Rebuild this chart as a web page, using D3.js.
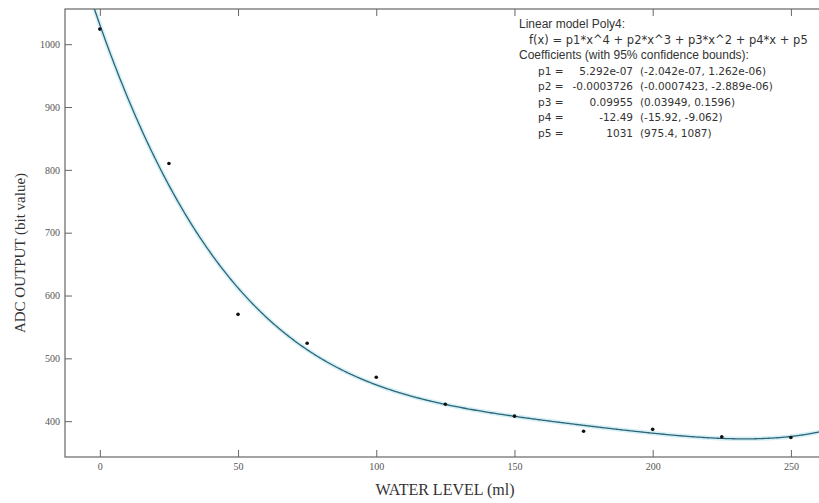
<!DOCTYPE html>
<html>
<head>
<meta charset="utf-8">
<script src="https://cdn.jsdelivr.net/npm/d3@7"></script>
<style>
    body { margin: 0; background: #fff; }
    svg { display: block; }
</style>
</head>
<body>
<div id="chart"></div>
<script>
// measured points (water level in ml, ADC output)
const waterLevel = [0, 25, 50, 75, 100, 125, 150, 175, 200, 225, 250];
const adcOutput = [1024, 810, 570, 524, 470, 427, 408, 384, 387, 375, 374];

// poly4 fit coefficients p1..p5
const coeffs = [5.292e-07, -0.0003726, 0.09955, -12.49, 1031];

const xTicks = [0, 50, 100, 150, 200, 250];
const yTicks = [400, 500, 600, 700, 800, 900, 1000];

const fitLines = [
    "Linear model Poly4:",
    "f(x) = p1*x^4 + p2*x^3 + p3*x^2 + p4*x + p5",
    "Coefficients (with 95% confidence bounds):"
];
const coefNames = ["p1 =", "p2 =", "p3 =", "p4 =", "p5 ="];
const coefValues = ["5.292e-07", "-0.0003726", "0.09955", "-12.49", "1031"];
const coefBounds = ["(-2.042e-07, 1.262e-06)", "(-0.0007423, -2.889e-06)", "(0.03949, 0.1596)", "(-15.92, -9.062)", "(975.4, 1087)"];

const width = 819, height = 503;
const plot = { left: 65, top: 9, right: 826, bottom: 457 };

const svg = d3.select("#chart").append("svg")
    .attr("width", width)
    .attr("height", height);

const x = d3.scaleLinear().domain([-12.6, 262.7]).range([plot.left, plot.right]);
const y = d3.scaleLinear().domain([343, 1056]).range([plot.bottom, plot.top]);

svg.append("clipPath").attr("id", "clip")
    .append("rect")
    .attr("x", plot.left).attr("y", plot.top)
    .attr("width", plot.right - plot.left).attr("height", plot.bottom - plot.top);

// fitted curve
const poly = v => coeffs.reduce((acc, c) => acc * v + c, 0);
const curveData = d3.range(-13, 263, 0.5).map(v => [v, poly(v)]);
const line = d3.line().x(d => x(d[0])).y(d => y(d[1]));

const curveG = svg.append("g").attr("clip-path", "url(#clip)");
curveG.append("path")
    .datum(curveData)
    .attr("d", line)
    .attr("fill", "none")
    .attr("stroke", "#d6f1f6")
    .attr("stroke-width", 4.5);
curveG.append("path")
    .datum(curveData)
    .attr("d", line)
    .attr("fill", "none")
    .attr("stroke", "#2e6478")
    .attr("stroke-width", 1.3);

// data points
svg.append("g").selectAll("circle")
    .data(waterLevel)
    .join("circle")
    .attr("cx", d => x(d))
    .attr("cy", (d, i) => y(adcOutput[i]))
    .attr("r", 1.8)
    .attr("fill", "#111");

// frame
const axisColor = "#666";
svg.append("rect")
    .attr("x", plot.left).attr("y", plot.top)
    .attr("width", plot.right - plot.left).attr("height", plot.bottom - plot.top)
    .attr("fill", "none")
    .attr("stroke", axisColor)
    .attr("stroke-width", 1.2);

// axes with inward ticks
const xAxisBottom = svg.append("g")
    .attr("transform", `translate(0,${plot.bottom})`)
    .call(d3.axisBottom(x).tickValues(xTicks).tickSizeInner(-7).tickSizeOuter(0).tickPadding(6));
const xAxisTop = svg.append("g")
    .attr("transform", `translate(0,${plot.top})`)
    .call(d3.axisTop(x).tickValues(xTicks).tickSizeInner(-7).tickSizeOuter(0).tickFormat(""));
const yAxisLeft = svg.append("g")
    .attr("transform", `translate(${plot.left},0)`)
    .call(d3.axisLeft(y).tickValues(yTicks).tickFormat(d3.format("d")).tickSizeInner(-7).tickSizeOuter(0).tickPadding(5));

[xAxisBottom, xAxisTop, yAxisLeft].forEach(g => {
    g.select(".domain").remove();
    g.selectAll(".tick line").attr("stroke", axisColor);
    g.selectAll(".tick text")
        .attr("fill", "#555")
        .attr("font-family", "Liberation Serif")
        .attr("font-size", 10);
});

// axis titles
svg.append("text")
    .attr("x", 445).attr("y", 495)
    .attr("text-anchor", "middle")
    .attr("font-family", "Liberation Serif")
    .attr("font-size", 16)
    .attr("fill", "#333")
    .text("WATER LEVEL (ml)");

svg.append("text")
    .attr("transform", "translate(25,253) rotate(-90)")
    .attr("text-anchor", "middle")
    .attr("font-family", "Liberation Serif")
    .attr("font-size", 15)
    .attr("fill", "#333")
    .text("ADC OUTPUT (bit value)");

// fit summary text
const info = svg.append("g").attr("fill", "#333");

const lineStep = 15.5, firstLine = 28;
info.selectAll("text.head")
    .data(fitLines)
    .join("text")
    .attr("class", "head")
    .attr("x", (d, i) => i === 1 ? 529 : 519)
    .attr("y", (d, i) => firstLine + i * lineStep)
    .attr("font-family", (d, i) => i === 1 ? "DejaVu Sans" : "Liberation Sans")
    .attr("font-size", (d, i) => i === 1 ? 11.5 : 12)
    .text(d => d);

const coefG = info.append("g")
    .attr("font-family", "DejaVu Sans")
    .attr("font-size", 10.5);
coefNames.forEach((name, i) => {
    const yy = firstLine + (i + 3) * lineStep;
    coefG.append("text").attr("x", 538).attr("y", yy).text(name);
    coefG.append("text").attr("x", 633).attr("y", yy).attr("text-anchor", "end").text(coefValues[i]);
    coefG.append("text").attr("x", 640).attr("y", yy).text(coefBounds[i]);
});
</script>
</body>
</html>
